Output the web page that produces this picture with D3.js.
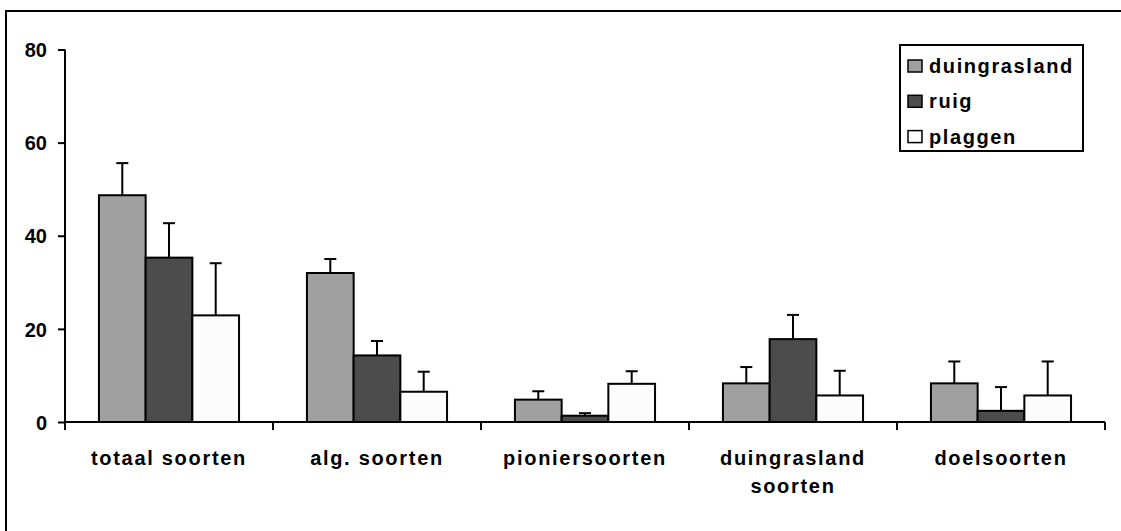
<!DOCTYPE html>
<html>
<head>
<meta charset="utf-8">
<script src="https://cdn.jsdelivr.net/npm/d3@7"></script>
<style>
  body { margin: 0; background: #fff; }
  text { font-family: "Liberation Sans", Arial, sans-serif; font-weight: bold; fill: #000; }
</style>
</head>
<body>
<div id="chart"></div>
<script>
// data
const categories = ["totaal soorten", "alg. soorten", "pioniersoorten", "duingrasland soorten", "doelsoorten"];
const categoryLines = [["totaal soorten"], ["alg. soorten"], ["pioniersoorten"], ["duingrasland", "soorten"], ["doelsoorten"]];
const seriesNames = ["duingrasland", "ruig", "plaggen"];
const duingrasland = [48.7, 32.0, 4.8, 8.3, 8.3];
const ruig = [35.3, 14.3, 1.35, 17.8, 2.4];
const plaggen = [22.9, 6.5, 8.2, 5.7, 5.7];
const errDuingrasland = [6.9, 3.0, 1.8, 3.5, 4.7];
const errRuig = [7.4, 3.1, 0.55, 5.2, 5.1];
const errPlaggen = [11.2, 4.3, 2.7, 5.3, 7.3];
const yTicks = [0, 20, 40, 60, 80];

const colors = ["#a0a0a0", "#4c4c4c", "#fcfcfc"];
const values = [duingrasland, ruig, plaggen];
const errors = [errDuingrasland, errRuig, errPlaggen];

const width = 1121, height = 531;
const plotLeft = 65, plotRight = 1105, plotTop = 49.5, plotBottom = 422;

const svg = d3.select("#chart").append("svg")
  .attr("width", width)
  .attr("height", height);

// outer frame (right and bottom edges fall outside the picture)
svg.append("rect")
  .attr("x", 6).attr("y", 11)
  .attr("width", 1125).attr("height", 530)
  .attr("fill", "none")
  .attr("stroke", "#000")
  .attr("stroke-width", 2);

const y = d3.scaleLinear().domain([0, 80]).range([plotBottom, plotTop]);
const x0 = d3.scaleBand().domain(categories).range([plotLeft, plotRight]).padding(0);
const x1 = d3.scaleBand().domain(seriesNames).range([0, x0.bandwidth()])
  .paddingInner(0).paddingOuter(0.727);

// y axis
const yAxis = svg.append("g")
  .attr("transform", `translate(${plotLeft},0)`)
  .call(d3.axisLeft(y).tickValues(yTicks).tickSize(7).tickPadding(11).tickFormat(d3.format("d")));
yAxis.select(".domain").attr("stroke", "#000").attr("stroke-width", 2).attr("d", `M0,${plotTop}V${plotBottom}`);
yAxis.selectAll(".tick line").attr("stroke", "#000").attr("stroke-width", 2);
yAxis.selectAll(".tick text").attr("font-size", 20).attr("dy", "0.36em");

// bars
const rows = [];
categories.forEach((c, i) => {
  seriesNames.forEach((s, j) => {
    rows.push({ cat: c, series: s, value: values[j][i], err: errors[j][i], color: colors[j] });
  });
});

svg.append("g").selectAll("rect")
  .data(rows)
  .enter()
  .append("rect")
  .attr("x", d => x0(d.cat) + x1(d.series))
  .attr("y", d => y(d.value))
  .attr("width", x1.bandwidth())
  .attr("height", d => y(0) - y(d.value))
  .attr("fill", d => d.color)
  .attr("stroke", "#000")
  .attr("stroke-width", 2);

// error bars (upper only)
const errG = svg.append("g").attr("stroke", "#000").attr("stroke-width", 2);
rows.forEach(d => {
  const cx = x0(d.cat) + x1(d.series) + x1.bandwidth() / 2;
  errG.append("line")
    .attr("x1", cx).attr("x2", cx)
    .attr("y1", y(d.value)).attr("y2", y(d.value + d.err));
  errG.append("line")
    .attr("x1", cx - 6).attr("x2", cx + 6)
    .attr("y1", y(d.value + d.err)).attr("y2", y(d.value + d.err));
});

// x axis
const xg = svg.append("g").attr("stroke", "#000").attr("stroke-width", 2);
xg.append("line").attr("x1", plotLeft).attr("x2", plotRight).attr("y1", plotBottom).attr("y2", plotBottom);
categories.concat([null]).forEach(c => {
  const xx = c === null ? plotRight : x0(c);
  xg.append("line").attr("x1", xx).attr("x2", xx).attr("y1", plotBottom).attr("y2", plotBottom + 8);
});

// category labels
categories.forEach((c, i) => {
  const t = svg.append("text")
    .attr("x", x0(c) + x0.bandwidth() / 2)
    .attr("y", 464.5)
    .attr("text-anchor", "middle")
    .attr("font-size", 20)
    .attr("letter-spacing", "1.7px");
  categoryLines[i].forEach((line, k) => {
    t.append("tspan")
      .attr("x", x0(c) + x0.bandwidth() / 2)
      .attr("dy", k === 0 ? 0 : 28)
      .text(line);
  });
});

// legend
const legend = svg.append("g");
legend.append("rect")
  .attr("x", 900).attr("y", 45)
  .attr("width", 183).attr("height", 106)
  .attr("fill", "#fff")
  .attr("stroke", "#000")
  .attr("stroke-width", 2);

seriesNames.forEach((s, j) => {
  const by = 73 + j * 35.3;
  legend.append("rect")
    .attr("x", 908).attr("y", by - 13)
    .attr("width", 14).attr("height", 12)
    .attr("fill", colors[j])
    .attr("stroke", "#000")
    .attr("stroke-width", 1.5);
  legend.append("text")
    .attr("x", 929).attr("y", by)
    .attr("font-size", 20)
    .attr("letter-spacing", "1.6px")
    .text(s);
});
</script>
</body>
</html>
